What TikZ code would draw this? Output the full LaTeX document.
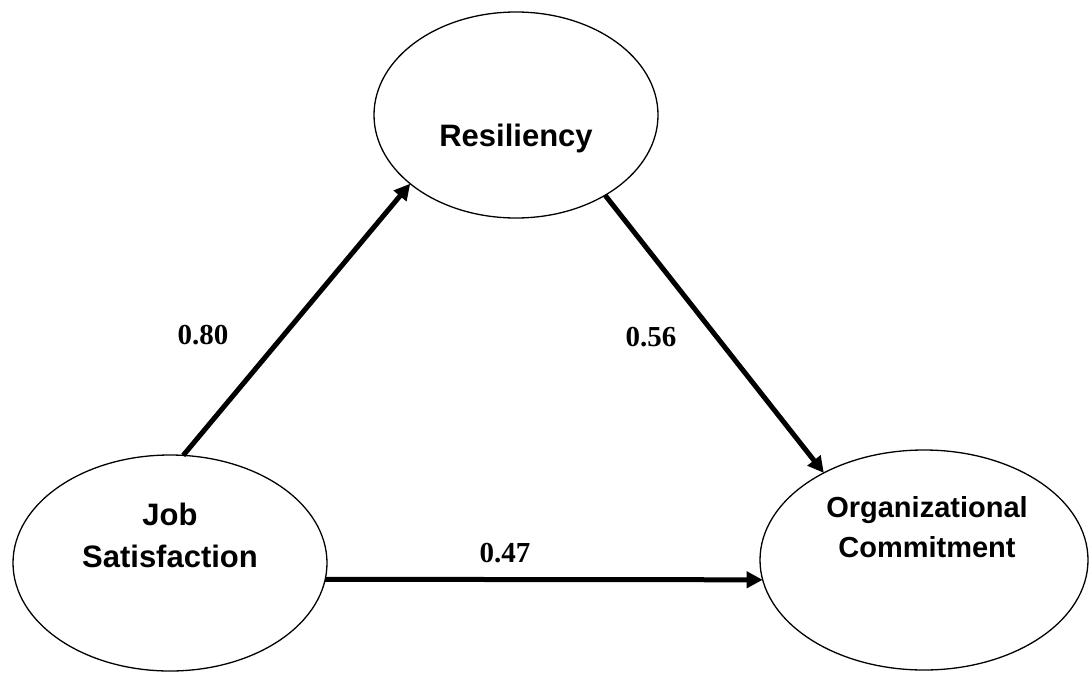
\documentclass[tikz,border=0pt]{standalone}
\usepackage{fontspec}
\setmainfont{Liberation Serif}
\newfontfamily\arialfont{Liberation Sans}
\usetikzlibrary{shapes.geometric, arrows.meta}

\begin{document}
\begin{tikzpicture}[x=1pt, y=-1pt,
        latent/.style={ellipse, draw, line width=1.3pt, inner sep=0pt, outer sep=0pt},
        varlabel/.style={font=\arialfont\bfseries\fontsize{31}{42}\selectfont, align=center, inner sep=0pt, anchor=base},
        coef/.style={font=\bfseries\fontsize{29}{34}\selectfont, inner sep=0pt},
        effect/.style={line width=5pt, -{Triangle[length=16pt, width=16pt]}}]
                \useasboundingbox (0,0) rectangle (1089,672);
                \node[latent, minimum width=284pt, minimum height=206pt] (res) at (516,115) {};
                \node[latent, minimum width=314pt, minimum height=216pt] (js) at (170,563) {};
                \node[latent, minimum width=328pt, minimum height=220pt] (oc) at (924,560) {};
                \node[varlabel] (resText) at (516,146) {Resiliency};
                \node[varlabel] (jsText) at (170,567) {Job\\Satisfaction};
                \node[varlabel, font=\arialfont\bfseries\fontsize{29}{40}\selectfont] (ocText) at (927,557) {Organizational\\Commitment};
                \node[coef] (b1) at (203,335) {0.80};
                \node[coef] (b2) at (651,337) {0.56};
                \node[coef] (b3) at (505,553) {0.47};
                \draw[effect] (js.83) -- (res.213);
                \draw[effect] (res.318) -- (oc.139);
                \draw[effect] (js.-6) -- (oc.187);
                \end{tikzpicture}
\end{document}
